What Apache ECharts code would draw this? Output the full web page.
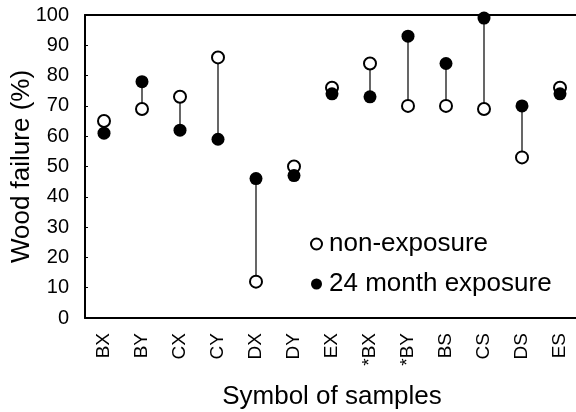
<!DOCTYPE html>
<html><head><meta charset="utf-8">
<script src="https://cdn.jsdelivr.net/npm/echarts@6/dist/echarts.min.js"></script>
<style>html,body{margin:0;padding:0;background:#fff}#c{width:576px;height:412px}</style>
</head><body><div id="c"></div>
<script>
const categories = ['BX','BY','CX','CY','DX','DY','EX','*BX','*BY','BS','CS','DS','ES'];
const nonExposure = [65,69,73,86,12,50,76,84,70,70,69,53,76];
const exposure24 = [61,78,62,59,46,47,74,73,93,84,99,70,74];
const yTicks = [0,10,20,30,40,50,60,70,80,90,100];

const FONT = 'Liberation Sans, Arial, sans-serif';
const chart = echarts.init(document.getElementById('c'), null, {renderer:'canvas'});
chart.setOption({
  animation:false,
  backgroundColor:'#fff',
  grid:{left:85, right:-3, top:15, bottom:94, containLabel:false, outerBoundsMode:'none'},
  legend:{
    orient:'vertical', left:305, top:226, itemGap:14,
    itemWidth:11, itemHeight:11,
    data:[{name:'non-exposure', icon:'circle'},{name:'24 month exposure', icon:'circle'}],
    textStyle:{fontFamily:FONT, fontSize:26, color:'#000', padding:[0,0,0,2], lineHeight:26}
  },
  xAxis:[{
    type:'category', data:categories, boundaryGap:true,
    axisLine:{lineStyle:{color:'#000', width:2}},
    axisTick:{inside:true, length:5, alignWithLabel:false, lineStyle:{color:'#000', width:1}},
    axisLabel:{rotate:90, margin:15, fontFamily:FONT, fontSize:19, color:'#000', interval:0},
    name:'Symbol of samples', nameLocation:'middle', nameGap:66, nameMoveOverlap:false,
    nameTextStyle:{fontFamily:FONT, fontSize:26, color:'#000'}
  },{
    type:'category', data:categories, position:'top',
    axisLine:{show:true, lineStyle:{color:'#000', width:2}},
    axisTick:{show:false}, axisLabel:{show:false}
  }],
  yAxis:{
    type:'value', min:0, max:100, interval:10,
    axisLine:{show:true, lineStyle:{color:'#000', width:2}},
    axisTick:{show:true, inside:true, length:3, lineStyle:{color:'#000'}},
    splitLine:{show:false},
    axisLabel:{margin:16, fontFamily:FONT, fontSize:20, color:'#000',
      formatter:v=>yTicks.includes(v)?String(v):''},
    name:'Wood failure (%)', nameLocation:'middle', nameGap:50, nameMoveOverlap:false,
    nameTextStyle:{fontFamily:FONT, fontSize:26, color:'#000'}
  },
  series:[
    {
      type:'custom', name:'connector', z:1,
      data: categories.map((c,i)=>[i, nonExposure[i], exposure24[i]]),
      renderItem:(params, api)=>{
        const p1 = api.coord([api.value(0), api.value(1)]);
        const p2 = api.coord([api.value(0), api.value(2)]);
        return {type:'line', shape:{x1:p1[0], y1:p1[1], x2:p2[0], y2:p2[1]},
          style:{stroke:'#000', lineWidth:1.2}};
      }
    },
    {
      type:'scatter', name:'non-exposure', z:3,
      data: nonExposure, symbol:'circle', symbolSize:12,
      itemStyle:{color:'#fff', borderColor:'#000', borderWidth:2, opacity:1}
    },
    {
      type:'scatter', name:'24 month exposure', z:4,
      data: exposure24, symbol:'circle', symbolSize:13,
      itemStyle:{color:'#000', borderColor:'#000', borderWidth:0, opacity:1}
    }
  ]
});
</script></body></html>
